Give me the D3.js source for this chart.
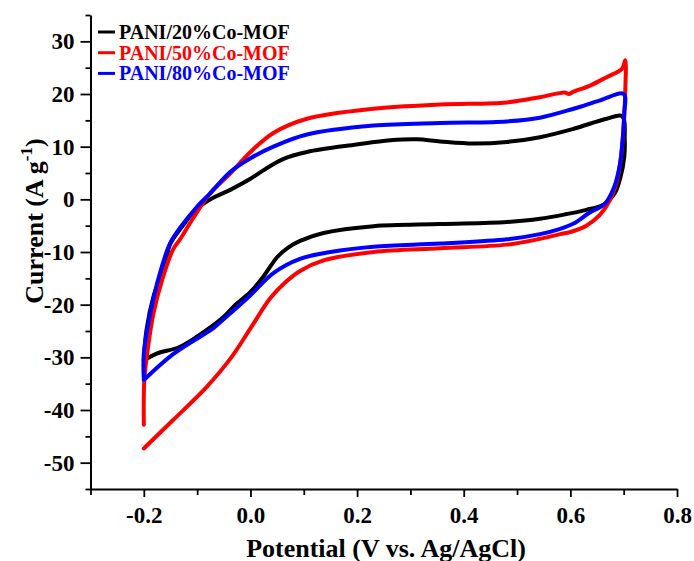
<!DOCTYPE html>
<html><head><meta charset="utf-8">
<script src="https://cdn.jsdelivr.net/npm/d3@7"></script>
<style>
html,body{margin:0;padding:0;background:#fff;}
svg{display:block;}
text{font-family:"Liberation Serif","Times New Roman",serif;font-weight:bold;}
</style></head>
<body>
<svg id="chart" width="694" height="561"></svg>
<script>
// ---- data (potential V, current A/g), loop order: anodic then cathodic ----
const seriesNames = ["PANI/20%Co-MOF", "PANI/50%Co-MOF", "PANI/80%Co-MOF"];
const seriesColors = ["#000000", "#ff0000", "#0000ff"];

const pani20Potential = [-0.200,-0.195,-0.182,-0.160,-0.151,-0.126,-0.101,-0.070,-0.038,0.000,0.024,0.060,0.106,0.199,0.262,0.312,0.356,0.418,0.481,0.543,0.606,0.668,0.697,
  0.702,0.701,0.694,0.683,0.662,0.630,0.593,0.543,0.481,0.356,0.231,0.137,0.093,0.070,0.050,0.024,0.000,-0.022,-0.030,-0.050,-0.082,-0.132,-0.176,-0.200];
const pani20Current = [-30.6,-24.8,-18.5,-12.2,-8.6,-4.9,-1.8,0.3,1.8,3.9,5.5,7.6,9.0,10.4,11.2,11.4,11.0,10.6,10.9,11.8,13.4,15.3,15.8,
  11.2,8.0,4.2,1.1,-1.0,-2.0,-2.8,-3.7,-4.3,-4.7,-5.1,-6.4,-7.9,-9.2,-11.0,-14.7,-17.6,-19.5,-20.2,-22.3,-24.8,-28.0,-29.3,-30.6];

const pani50Potential = [-0.200,-0.199,-0.192,-0.182,-0.166,-0.145,-0.132,-0.107,-0.076,-0.038,0.000,0.043,0.106,0.231,0.356,0.481,0.543,0.590,0.597,0.605,0.637,0.668,0.697,0.703,
  0.703,0.700,0.695,0.686,0.674,0.655,0.630,0.600,0.581,0.543,0.481,0.356,0.231,0.137,0.093,0.065,0.037,0.000,-0.038,-0.082,-0.145,-0.200];
const pani50Current = [-42.8,-34.3,-28.0,-21.7,-15.4,-9.5,-7.6,-3.5,1.1,4.9,9.0,12.6,15.3,17.2,18.0,18.4,19.4,20.3,20.0,20.4,21.6,23.2,24.8,26.4,
  20.7,14.3,8.0,3.0,-0.2,-3.0,-5.0,-6.2,-6.6,-7.5,-8.6,-9.3,-10.0,-11.6,-13.6,-15.8,-18.8,-24.5,-30.3,-35.6,-41.9,-47.3];

const pani80Potential = [-0.200,-0.200,-0.188,-0.170,-0.151,-0.132,-0.101,-0.076,-0.038,0.000,0.043,0.106,0.231,0.356,0.481,0.543,0.606,0.656,0.700,
  0.701,0.698,0.692,0.682,0.665,0.635,0.606,0.581,0.543,0.481,0.356,0.231,0.150,0.093,0.043,0.000,-0.035,-0.070,-0.082,-0.145,-0.200];
const pani80Current = [-34.3,-29.3,-21.7,-14.1,-8.4,-5.4,-1.5,1.1,5.2,7.8,10.0,12.3,14.0,14.5,14.8,15.5,17.2,18.8,20.0,
  16.2,11.2,6.1,2.3,-0.8,-2.6,-4.6,-5.6,-6.6,-7.6,-8.4,-9.0,-10.0,-11.3,-14.0,-18.2,-21.4,-24.5,-25.3,-29.4,-34.3];

const xMajorTicks = [-0.2, 0.0, 0.2, 0.4, 0.6, 0.8];
const xMinorTicks = [-0.3, -0.1, 0.1, 0.3, 0.5, 0.7];
const yMajorTicks = [-50, -40, -30, -20, -10, 0, 10, 20, 30];
const yMinorTicks = [-55, -45, -35, -25, -15, -5, 5, 15, 25, 35];

const xLabel = "Potential (V vs. Ag/AgCl)";

// ---- drawing ----
const svg = d3.select("#chart");
const x = d3.scaleLinear().domain([-0.3, 0.8]).range([90.5, 677]);
const y = d3.scaleLinear().domain([-55, 35]).range([489, 15]);

const fmt = (f) => (d) => f(d).replace("\u2212", "-");

// minor ticks
svg.append("g").attr("transform", "translate(0,489)")
  .call(d3.axisBottom(x).tickValues(xMinorTicks).tickSize(6).tickFormat(""))
  .call(g => g.select(".domain").remove());
svg.append("g").attr("transform", "translate(90.5,0)")
  .call(d3.axisLeft(y).tickValues(yMinorTicks).tickSize(5).tickFormat(""))
  .call(g => g.select(".domain").remove());

// major axes
const xAxis = svg.append("g").attr("transform", "translate(0,489)")
  .call(d3.axisBottom(x).tickValues(xMajorTicks).tickSize(8).tickPadding(10).tickSizeOuter(0).tickFormat(fmt(d3.format(".1f"))));
const yAxis = svg.append("g").attr("transform", "translate(90.5,0)")
  .call(d3.axisLeft(y).tickValues(yMajorTicks).tickSize(10).tickPadding(6).tickSizeOuter(0).tickFormat(fmt(d3.format("d"))));

svg.selectAll(".tick line").attr("stroke", "#000").attr("stroke-width", 1.8);
svg.selectAll(".domain").attr("stroke", "#000").attr("stroke-width", 2);
xAxis.selectAll("text").attr("font-size", 23).attr("font-family", "Liberation Serif").attr("font-weight", "bold").attr("fill", "#000");
yAxis.selectAll("text").attr("font-size", 23).attr("font-family", "Liberation Serif").attr("font-weight", "bold").attr("fill", "#000");

// axis titles
svg.append("text").attr("x", 386).attr("y", 557).attr("text-anchor", "middle")
  .attr("font-size", 26).text(xLabel);
const yt = svg.append("text").attr("transform", "translate(43,221) rotate(-90)")
  .attr("text-anchor", "middle").attr("font-size", 26);
yt.append("tspan").text("Current (A g");
yt.append("tspan").attr("font-size", 17).attr("dy", -11).text("-1");
yt.append("tspan").attr("dy", 11).text(")");

// curves
const seriesData = [
  d3.zip(pani20Potential, pani20Current),
  d3.zip(pani50Potential, pani50Current),
  d3.zip(pani80Potential, pani80Current)
];
const line = d3.line().x(d => x(d[0])).y(d => y(d[1])).curve(d3.curveCatmullRom.alpha(0.5));
seriesData.forEach((data, i) => {
  svg.append("path").datum(data).attr("d", line)
    .attr("fill", "none").attr("stroke", seriesColors[i]).attr("stroke-width", 4)
    .attr("stroke-linejoin", "round").attr("stroke-linecap", "round");
});

// legend
const lg = svg.append("g");
seriesNames.forEach((name, i) => {
  const yy = 32 + i * 20.7;
  lg.append("line").attr("x1", 98).attr("x2", 115).attr("y1", yy).attr("y2", yy)
    .attr("stroke", seriesColors[i]).attr("stroke-width", 3);
  lg.append("text").attr("x", 119).attr("y", yy + 7).attr("font-size", 20)
    .attr("fill", seriesColors[i]).text(name);
});
</script>
</body></html>
